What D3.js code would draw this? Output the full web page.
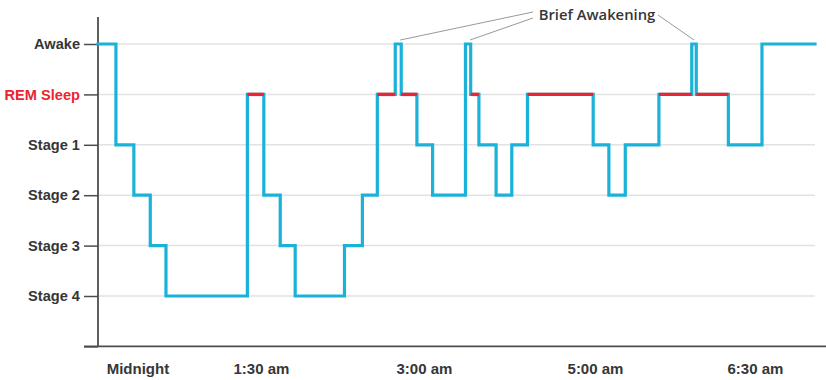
<!DOCTYPE html>
<html><head><meta charset="utf-8">
<script src="https://cdn.jsdelivr.net/npm/d3@7"></script>
<style>
html,body{margin:0;padding:0;background:#fff;}
svg{display:block;font-family:"Open Sans","Noto Sans",sans-serif;}
</style></head>
<body><svg id="c" width="826" height="380"></svg>
<script>
// ---- data ----
const stages = ["Awake", "REM Sleep", "Stage 1", "Stage 2", "Stage 3", "Stage 4", ""];
// step starts (minutes from chart start) and stage index held from that point
const stepTimes  = [0, 12, 24, 35, 45.5, 100, 111, 122, 132, 165, 177, 187, 199, 203, 213.5, 224, 246, 249.5, 255, 266.5, 277, 287.5, 331.5, 342, 353, 375.5, 397.5, 400.5, 422, 444.5];
const stepStages = [0, 2, 3, 4, 5, 1, 3, 4, 5, 4, 3, 1, 0, 1, 2, 3, 0, 1, 2, 3, 2, 1, 2, 3, 2, 1, 0, 1, 2, 0];
const endTime = 480;
const tickLabels = ["Midnight", "1:30 am", "3:00 am", "5:00 am", "6:30 am"];
const tickTimes  = [26.4, 109.1, 218.2, 332.7, 439.8];
const annotationText = "Brief Awakening";
const annotatedSteps = [12, 16, 26]; // indices of awakening steps

// ---- layout ----
const svg = d3.select("#c");
const x = d3.scaleLinear().domain([0, endTime]).range([98, 815]);
const y = d3.scaleLinear().domain([0, 6]).range([44, 346.4]);
const axisCol = "#4d4d4d", textCol = "#363636", blue = "#1bb2d9", red = "#ec2530";

// gridlines
svg.append("g").selectAll("line").data(d3.range(6)).join("line")
  .attr("x1", x(0)).attr("x2", x(endTime))
  .attr("y1", d => y(d)).attr("y2", d => y(d))
  .attr("stroke", "#e2e2e2").attr("stroke-width", 1.5);

// y axis
const yAxis = d3.axisLeft(y).tickValues(d3.range(7)).tickFormat(i => stages[i]).tickSize(14).tickPadding(4);
const gy = svg.append("g").attr("transform", `translate(${x(0)},0)`).call(yAxis);
gy.select(".domain").remove();
gy.selectAll(".tick line").attr("stroke", axisCol).attr("stroke-width", 1.5);
gy.selectAll(".tick text").attr("fill", (d) => d === 1 ? red : textCol)
  .style("font-size", "14.6px").style("font-weight", 600);
svg.append("line").attr("x1", x(0)).attr("x2", x(0)).attr("y1", 17).attr("y2", y(6))
  .attr("stroke", axisCol).attr("stroke-width", 1.8);
svg.append("line").attr("x1", 84).attr("x2", 826).attr("y1", y(6)).attr("y2", y(6))
  .attr("stroke", axisCol).attr("stroke-width", 1.8);

// x axis labels
const xAxis = d3.axisBottom(x).tickValues(tickTimes).tickFormat((d, i) => tickLabels[i]).tickSize(0).tickPadding(17);
const gx = svg.append("g").attr("transform", `translate(0,${y(6)})`).call(xAxis);
gx.select(".domain").remove();
gx.selectAll(".tick text").attr("fill", textCol).style("font-size", "15px").style("font-weight", 600);

// hypnogram
const pts = stepTimes.map((t, i) => [t, stepStages[i]]);
pts.push([endTime, stepStages[stepStages.length - 1]]);
const line = d3.line().x(d => x(d[0])).y(d => y(d[1])).curve(d3.curveStepAfter);
svg.append("path").datum(pts).attr("d", line).attr("fill", "none")
  .attr("stroke", blue).attr("stroke-width", 3.2).attr("stroke-linejoin", "miter").attr("stroke-linecap", "square");

// REM segments
const rem = stepTimes.map((t, i) => ({ s: t, e: i + 1 < stepTimes.length ? stepTimes[i + 1] : endTime, st: stepStages[i] }))
  .filter(d => d.st === 1);
svg.append("g").selectAll("line").data(rem).join("line")
  .attr("x1", d => x(d.s)).attr("x2", d => x(d.e)).attr("y1", y(1)).attr("y2", y(1))
  .attr("stroke", red).attr("stroke-width", 3.4);

// annotation
svg.append("text").attr("x", 597).attr("y", 20).attr("text-anchor", "middle")
  .attr("fill", textCol).style("font-size", "14.8px").style("font-weight", 600).text(annotationText);
const anchors = [[533, 12], [533, 18], [658, 15]];
svg.append("g").selectAll("line").data(annotatedSteps).join("line")
  .attr("x1", (d, i) => anchors[i][0]).attr("y1", (d, i) => anchors[i][1])
  .attr("x2", d => (x(stepTimes[d]) + x(stepTimes[d + 1])) / 2 + (d === 26 ? 0 : 2))
  .attr("y2", y(0) - 4)
  .attr("stroke", "#999").attr("stroke-width", 1);
</script></body></html>
